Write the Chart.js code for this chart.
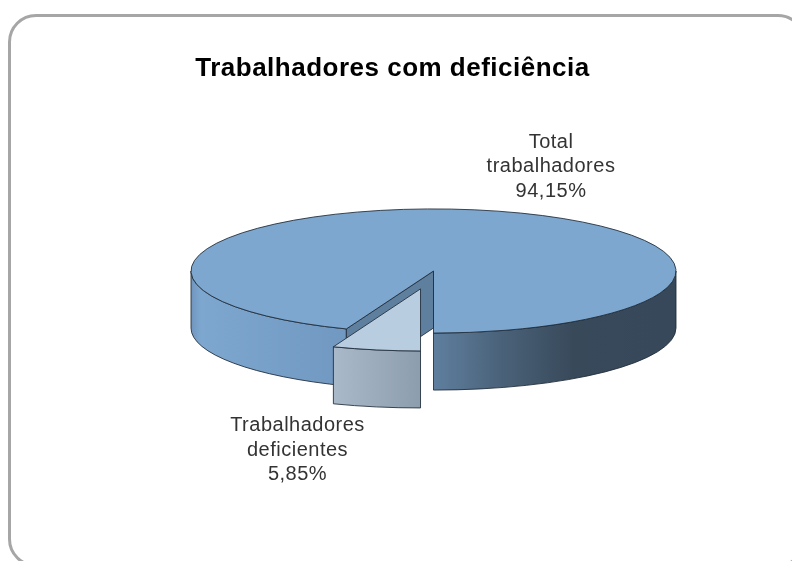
<!DOCTYPE html>
<html lang="pt">
<head>
<meta charset="utf-8">
<style>
html,body{margin:0;padding:0;background:#fff;overflow:hidden}
#wrap{position:relative;width:792px;height:561px;overflow:hidden}
#frame{position:absolute;left:8px;top:14px;width:798px;height:553px;box-sizing:border-box;border:3px solid #a6a6a6;border-radius:28px}
canvas{position:absolute;left:0;top:0}
</style>
<script src="https://cdn.jsdelivr.net/npm/chart.js@4/dist/chart.umd.js"></script>
</head>
<body>
<div id="wrap"><div id="frame"></div><canvas id="c" width="785" height="561" style="width:785px;height:561px"></canvas></div>
<script>
const chartTitle = "Trabalhadores com deficiência";
const categories = ["Total trabalhadores", "Trabalhadores deficientes"];
const labelLines = [["Total", "trabalhadores"], ["Trabalhadores", "deficientes"]];
const seriesValues = [94.15, 5.85];
const sliceColors = ["#7da7ce", "#b9cde0"];

const pieX = 433.5, pieY = 271, pieR = 242.5, squash = 0.256, depth = 57;
const pullOut = 71;
const labelAnchors = [[551, 142], [297.5, 425.5]];
const labelGap = 24.5;
const labelFont = "20px 'Liberation Sans', Arial, sans-serif";
const edge = "rgba(30,42,55,0.85)";

function arcGeom(chart, arc) {
  const base = chart.getDatasetMeta(0).data[0];
  return {
    x: pieX + (arc.x - base.x),
    y: pieY + (arc.y - base.y) * squash,
    r: pieR, s: arc.startAngle, e: arc.endAngle
  };
}
function frontRanges(s, e) {
  const out = [];
  for (let n = -1; n <= 2; n++) {
    const a = Math.max(s, n * 2 * Math.PI), b = Math.min(e, n * 2 * Math.PI + Math.PI);
    if (b > a) out.push([a, b]);
  }
  return out;
}
function sidePath(ctx, g, a, b) {
  ctx.beginPath();
  ctx.ellipse(g.x, g.y, g.r, g.r * squash, 0, a, b);
  ctx.ellipse(g.x, g.y + depth, g.r, g.r * squash, 0, b, a, true);
  ctx.closePath();
}
function rimPoint(g, a) {
  return [g.x + Math.cos(a) * g.r, g.y + Math.sin(a) * g.r * squash];
}

const tiltPie = {
  id: "tiltPie",
  afterDatasetsUpdate(chart) {
    // pull the small slice out along its bisector
    const arc = chart.getDatasetMeta(0).data[1];
    const mid = (arc.startAngle + arc.endAngle) / 2;
    arc.x += Math.cos(mid) * pullOut;
    arc.y += Math.sin(mid) * pullOut;
  },
  beforeDraw(chart) {
    chart.ctx.letterSpacing = "0.5px";
  },
  beforeDatasetsDraw(chart) {
    const ctx = chart.ctx, meta = chart.getDatasetMeta(0);
    ctx.letterSpacing = "0px";
    const main = arcGeom(chart, meta.data[0]), part = arcGeom(chart, meta.data[1]);
    ctx.save();
    ctx.lineWidth = 1;
    ctx.strokeStyle = edge;
    const g1 = ctx.createLinearGradient(main.x - main.r, 0, main.x + main.r, 0);
    g1.addColorStop(0, "#6f95bd");
    g1.addColorStop(0.02, "#7ea7d0");
    g1.addColorStop(0.3, "#7199c2");
    g1.addColorStop(0.4999, "#6f96bf");
    g1.addColorStop(0.5, "#5f7f9f");
    g1.addColorStop(0.64, "#4a6279");
    g1.addColorStop(0.79, "#38495a");
    g1.addColorStop(1, "#37485a");
    frontRanges(main.s, main.e).forEach(([a, b]) => {
      sidePath(ctx, main, a, b);
      ctx.fillStyle = g1; ctx.fill(); ctx.stroke();
    });
    const apex = [main.x, main.y], rim = rimPoint(main, main.s);
    ctx.beginPath();
    ctx.moveTo(apex[0], apex[1]);
    ctx.lineTo(rim[0], rim[1]);
    ctx.lineTo(rim[0], rim[1] + depth);
    ctx.lineTo(apex[0], apex[1] + depth);
    ctx.closePath();
    ctx.fillStyle = "#5f7f9f"; ctx.fill(); ctx.stroke();
    const g2 = ctx.createLinearGradient(rimPoint(part, part.e)[0], 0, rimPoint(part, part.s)[0], 0);
    g2.addColorStop(0, "#aab9c9");
    g2.addColorStop(1, "#8c9dae");
    frontRanges(part.s, part.e).forEach(([a, b]) => {
      sidePath(ctx, part, a, b);
      ctx.fillStyle = g2; ctx.fill(); ctx.stroke();
    });
    ctx.restore();
    ctx.save();
    const base = meta.data[0];
    ctx.translate(pieX, pieY);
    ctx.scale(1, squash);
    ctx.translate(-base.x, -base.y);
  },
  afterDatasetsDraw(chart) {
    const ctx = chart.ctx, meta = chart.getDatasetMeta(0);
    ctx.restore();
    ctx.save();
    ctx.lineWidth = 1;
    ctx.strokeStyle = edge;
    meta.data.forEach(arc => {
      const g = arcGeom(chart, arc);
      ctx.beginPath();
      ctx.moveTo(g.x, g.y);
      ctx.ellipse(g.x, g.y, g.r, g.r * squash, 0, g.s, g.e);
      ctx.closePath();
      ctx.stroke();
    });
    ctx.fillStyle = "#333";
    ctx.font = labelFont;
    ctx.textAlign = "center";
    ctx.textBaseline = "middle";
    ctx.letterSpacing = "0.5px";
    seriesValues.forEach((v, i) => {
      const lines = labelLines[i].concat(v.toFixed(2).replace(".", ",") + "%");
      lines.forEach((t, j) => ctx.fillText(t, labelAnchors[i][0], labelAnchors[i][1] + j * labelGap));
    });
    ctx.restore();
  }
};

new Chart(document.getElementById("c"), {
  type: "pie",
  data: {
    labels: categories,
    datasets: [{
      data: seriesValues,
      backgroundColor: sliceColors,
      borderWidth: 0,
      clip: false
    }]
  },
  options: {
    responsive: false,
    animation: false,
    rotation: 180 + seriesValues[1] * 3.6,
    radius: pieR,
    layout: { padding: 0 },
    plugins: {
      legend: { display: false },
      tooltip: { enabled: false },
      title: {
        display: true,
        text: chartTitle,
        color: "#000",
        font: { family: "'Liberation Sans', Arial, sans-serif", size: 26, weight: "bold" },
        padding: { top: 53, bottom: 10 }
      }
    }
  },
  plugins: [tiltPie]
});
</script>
</body>
</html>
